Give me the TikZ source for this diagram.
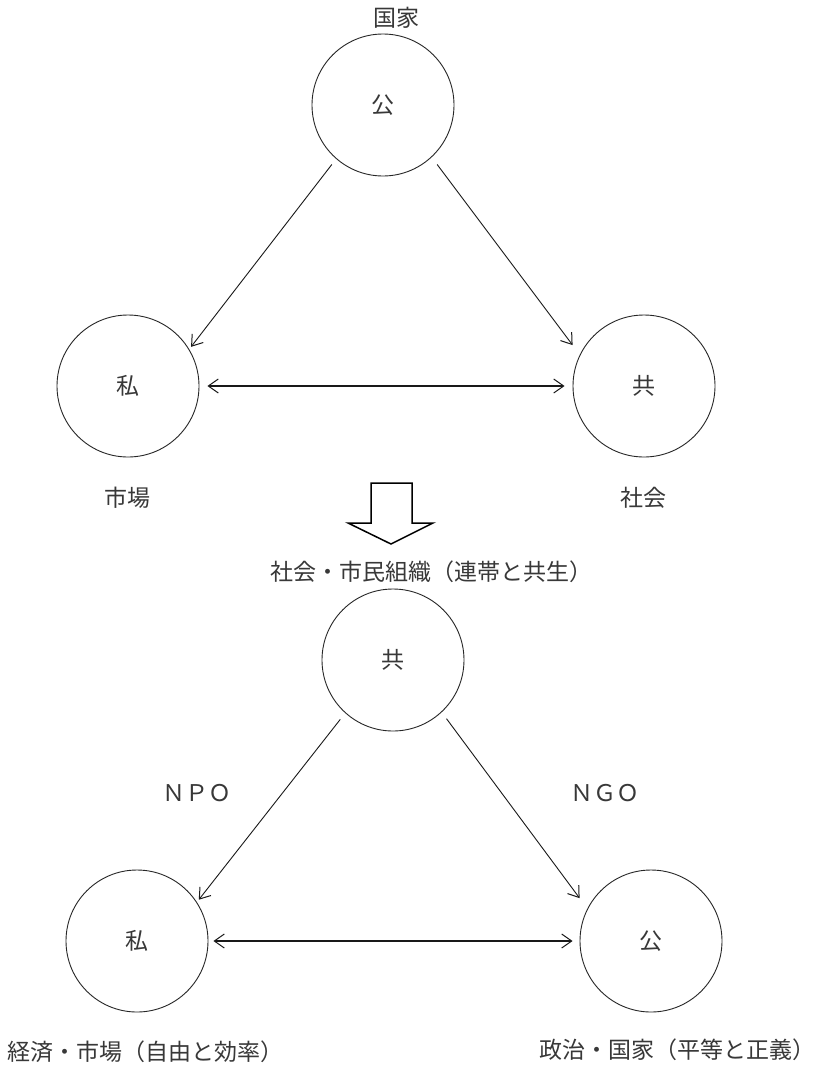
\documentclass[tikz,border=0pt]{standalone}
\usepackage{fontspec}
\newfontfamily\jp{Noto Sans CJK JP}
\usetikzlibrary{arrows.meta}

\begin{document}
\begin{tikzpicture}[x=1pt,y=-1pt,
  circ/.style={circle, draw=black!85, line width=0.9pt, minimum size=142pt,
               inner sep=0pt, font=\jp\fontsize{23}{26}\selectfont, text=black!78},
  lbl/.style={font=\jp\fontsize{23}{26}\selectfont, text=black!78, inner sep=0pt},
  tipend/.tip={Straight Barb[length=10pt,width=14pt,line width=1pt]},
  link/.style={draw=black!90, line width=0.9pt, -tipend},
  both/.style={draw=black!90, line width=1.4pt, tipend-tipend},
  hollow/.style={draw=black, line width=1.5pt, line join=miter},
]
\useasboundingbox (0,0) rectangle (815,1066);
\fill[white] (0,0) rectangle (815,1066);

% upper triangle: public / private / common
\node[circ] (gA) at (383,105) {公};
\node[circ] (gB) at (128,386) {私};
\node[circ] (gC) at (644,386) {共};
\node[lbl] (tA) at (396,18) {国家};
\node[lbl] (tB) at (127,498) {市場};
\node[lbl] (tC) at (643,498) {社会};

\draw[link, shorten <=7pt, shorten >=3pt] (gA.229) -- (gB.31);
\draw[link, shorten <=9pt, shorten >=12pt] (gA.313) -- (gC.154);
\draw[both, shorten <=8pt, shorten >=8pt] (gB) -- (gC);

% transition arrow
\draw[hollow] (371,483) -- (412,483) -- (412,523) -- (433,523) -- (391,544)
  -- (348,523) -- (371,523) -- cycle;

% lower triangle: common / private / public
\node[lbl] (tD) at (431,572) {社会・市民組織（連帯と共生）};
\node[circ] (hA) at (393,660) {共};
\node[circ] (hB) at (137,941) {私};
\node[circ] (hC) at (651,941) {公};
\node[lbl] (tE) at (197,793) {ＮＰＯ};
\node[lbl] (tF) at (605,793) {ＮＧＯ};
\node[lbl] (tG) at (146,1052) {経済・市場（自由と効率）};
\node[lbl] (tH) at (677,1050) {政治・国家（平等と正義）};

\draw[link, shorten <=8pt, shorten >=3pt] (hA.228) -- (hB.33);
\draw[link, shorten <=8pt, shorten >=13pt] (hA.313) -- (hC.153);
\draw[both, shorten <=5pt, shorten >=7pt] (hB) -- (hC);
\end{tikzpicture}
\end{document}
